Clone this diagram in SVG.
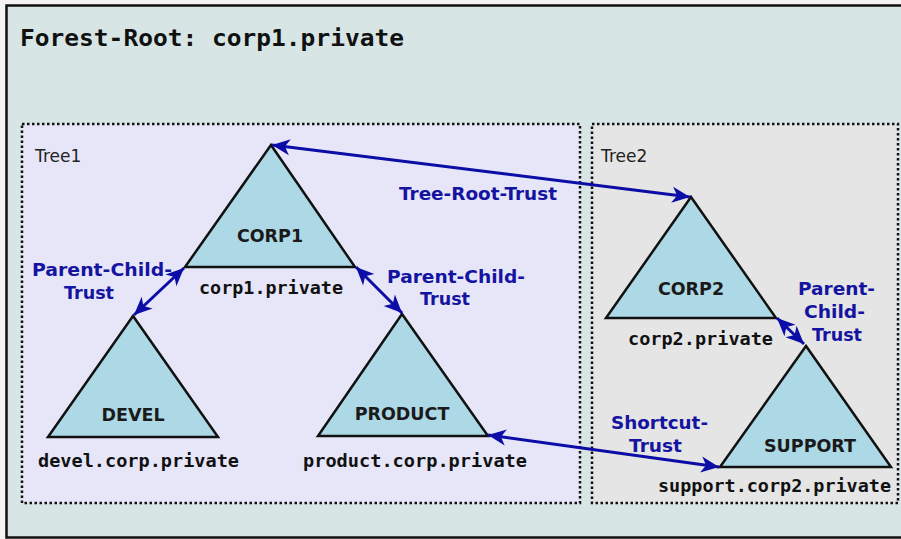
<svg xmlns="http://www.w3.org/2000/svg" width="901" height="539" viewBox="0 0 901 539">
  <style>
    .tri { fill: #add8e6; stroke: #111; stroke-width: 2.5; stroke-linejoin: miter; }
    .nlabel { font-family: "DejaVu Sans", "Liberation Sans", sans-serif; font-weight: bold; font-size: 17.5px; fill: #1a1a1a; text-anchor: middle; }
    .dom { font-family: "DejaVu Sans Mono", "Liberation Mono", monospace; font-weight: bold; font-size: 18px; fill: #111; }
    .elabel { font-family: "DejaVu Sans", "Liberation Sans", sans-serif; font-weight: bold; font-size: 17.5px; fill: #1414a0; }
    .tree { font-family: "DejaVu Sans", "Liberation Sans", sans-serif; font-size: 17px; fill: #222; }
    .box { stroke: #111; stroke-width: 2.5; stroke-dasharray: 2.5 2.5; }
    .conn { stroke: #0c0ca6; stroke-width: 3; fill: none; marker-start: url(#ah); marker-end: url(#ah); }
  </style>
  <defs>
    <marker id="ah" viewBox="-19 -9 20 18" refX="0" refY="0" markerWidth="20" markerHeight="18" markerUnits="userSpaceOnUse" orient="auto-start-reverse">
      <path d="M0,0 L-18,-8 L-13,0 L-18,8 Z" fill="#0c0ca6"/>
    </marker>
  </defs>

  <rect x="0" y="0" width="901" height="539" fill="#f4f2f2"/>
  <g id="forest">
    <rect x="6.5" y="5.5" width="900" height="532" fill="#d7e5e5" stroke="#111" stroke-width="2.5"/>
    <text x="20" y="46" font-family="DejaVu Sans Mono, Liberation Mono, monospace" font-weight="bold" font-size="23" fill="#111" textLength="384" lengthAdjust="spacingAndGlyphs">Forest-Root: corp1.private</text>
  </g>

  <g id="tree1">
    <rect class="box" x="22" y="124" width="558" height="379" fill="#e6e6f8"/>
    <text class="tree" x="35" y="162">Tree1</text>
  </g>
  <g id="tree2">
    <rect class="box" x="592" y="124" width="306" height="379" fill="#e5e5e5"/>
    <text class="tree" x="601" y="162">Tree2</text>
  </g>

  <g id="corp1">
    <polygon class="tri" points="271,145 185,267 355,267"/>
    <text class="nlabel" x="270" y="242">CORP1</text>
    <text class="dom" x="199" y="294" textLength="144" lengthAdjust="spacingAndGlyphs">corp1.private</text>
  </g>
  <g id="devel">
    <polygon class="tri" points="133,316 48,437 218,437"/>
    <text class="nlabel" x="133" y="421">DEVEL</text>
    <text class="dom" x="38" y="467" textLength="201" lengthAdjust="spacingAndGlyphs">devel.corp.private</text>
  </g>
  <g id="product">
    <polygon class="tri" points="402,314 318,436 488,436"/>
    <text class="nlabel" x="402" y="420">PRODUCT</text>
    <text class="dom" x="303" y="467" textLength="224" lengthAdjust="spacingAndGlyphs">product.corp.private</text>
  </g>
  <g id="corp2">
    <polygon class="tri" points="691,197 606,318 776,318"/>
    <text class="nlabel" x="691" y="295">CORP2</text>
    <text class="dom" x="628" y="345" textLength="145" lengthAdjust="spacingAndGlyphs">corp2.private</text>
  </g>
  <g id="support">
    <polygon class="tri" points="806,346 720,467 891,467"/>
    <text class="nlabel" x="810" y="452">SUPPORT</text>
    <text class="dom" x="658" y="492" textLength="233" lengthAdjust="spacingAndGlyphs">support.corp2.private</text>
  </g>

  <g id="connectors">
    <line class="conn" x1="272" y1="145" x2="690" y2="197"/>
    <line class="conn" x1="184" y1="268" x2="134" y2="315"/>
    <line class="conn" x1="356" y1="267" x2="402" y2="313"/>
    <line class="conn" x1="777" y1="318" x2="804" y2="344"/>
    <line class="conn" x1="488" y1="435" x2="719" y2="467"/>
    <text class="elabel" x="399" y="200" textLength="158" lengthAdjust="spacingAndGlyphs">Tree-Root-Trust</text>
    <text class="elabel" x="32" y="276" textLength="140" lengthAdjust="spacingAndGlyphs">Parent-Child-</text>
    <text class="elabel" x="64" y="299" textLength="50" lengthAdjust="spacingAndGlyphs">Trust</text>
    <text class="elabel" x="387" y="283" textLength="138" lengthAdjust="spacingAndGlyphs">Parent-Child-</text>
    <text class="elabel" x="420" y="305" textLength="50" lengthAdjust="spacingAndGlyphs">Trust</text>
    <text class="elabel" x="798" y="295" textLength="77" lengthAdjust="spacingAndGlyphs">Parent-</text>
    <text class="elabel" x="804" y="318" textLength="61" lengthAdjust="spacingAndGlyphs">Child-</text>
    <text class="elabel" x="812" y="341" textLength="50" lengthAdjust="spacingAndGlyphs">Trust</text>
    <text class="elabel" x="611" y="429" textLength="97" lengthAdjust="spacingAndGlyphs">Shortcut-</text>
    <text class="elabel" x="629" y="452" textLength="53" lengthAdjust="spacingAndGlyphs">Trust</text>
  </g>
</svg>
